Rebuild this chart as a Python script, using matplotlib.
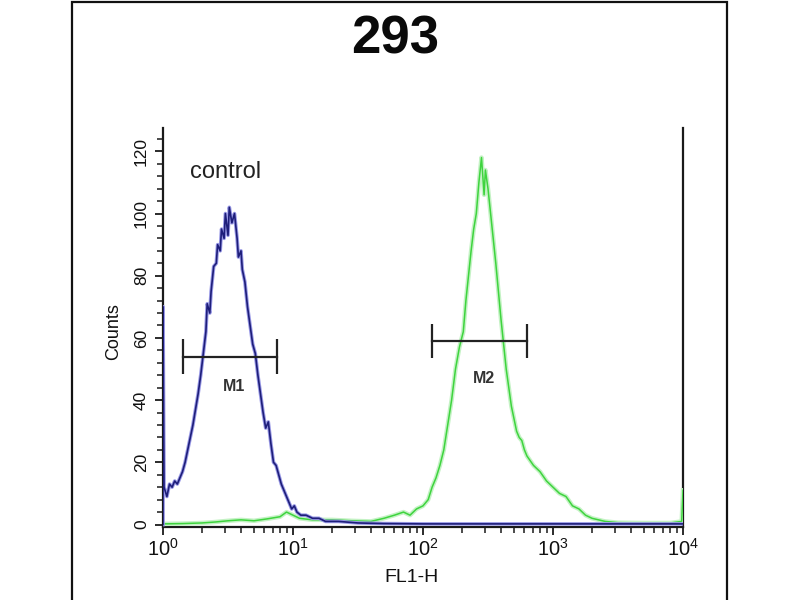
import numpy as np
import matplotlib
matplotlib.use("Agg")
import matplotlib.pyplot as plt
from matplotlib.ticker import MultipleLocator, LogLocator, FixedLocator, NullFormatter
from matplotlib.patches import Rectangle

plt.rcParams['font.family'] = ['Liberation Sans', 'DejaVu Sans']
plt.rcParams['mathtext.fontset'] = 'custom'
plt.rcParams['mathtext.rm'] = 'Liberation Sans'
plt.rcParams['mathtext.it'] = 'Liberation Sans'

# ---- data (x given in decades: FL1-H = 10**decade) ----
control_decade = [0.00, 0.00, 0.008, 0.03, 0.05, 0.07, 0.09, 0.11, 0.13, 0.15, 0.17, 0.19, 0.21,
                  0.23, 0.25, 0.27, 0.29, 0.31, 0.33, 0.34, 0.36, 0.37, 0.39, 0.41, 0.42,
                  0.44, 0.45, 0.47, 0.48, 0.50, 0.51, 0.53, 0.55, 0.57, 0.58, 0.60, 0.61,
                  0.63, 0.65, 0.67, 0.69, 0.71, 0.73, 0.75, 0.77, 0.79, 0.81, 0.83, 0.85,
                  0.87, 0.89, 0.91, 0.93, 0.95, 0.97, 0.99, 1.01, 1.03, 1.06, 1.10, 1.15,
                  1.20, 1.25, 1.35, 1.50, 1.70, 2.00, 2.50, 3.00, 3.50, 4.00]
control_counts = [0, 70, 12, 9, 13, 12, 14, 13, 15, 17, 20, 24, 28,
                  32, 37, 42, 48, 55, 62, 71, 68, 75, 83, 84, 90,
                  88, 95, 92, 100, 93, 102, 97, 100, 92, 86, 88, 82,
                  78, 70, 64, 58, 55, 48, 42, 36, 31, 33, 26, 20,
                  19, 16, 13, 11, 9, 7, 5, 6, 4, 3, 3, 2,
                  2, 1, 1, 0.5, 0.3, 0.2, 0.2, 0.2, 0.2, 0.2]

sample_decade = [0.00, 0.15, 0.30, 0.40, 0.50, 0.60, 0.70, 0.80, 0.90, 0.95, 1.00, 1.05, 1.15, 1.30,
                 1.45, 1.60, 1.70, 1.78, 1.85, 1.90, 1.95, 2.00, 2.04, 2.07, 2.10, 2.13,
                 2.16, 2.19, 2.22, 2.25, 2.28, 2.31, 2.33, 2.35, 2.37, 2.39, 2.41, 2.43,
                 2.45, 2.46, 2.47, 2.48, 2.50, 2.52, 2.54, 2.56, 2.58, 2.60, 2.62, 2.64,
                 2.66, 2.68, 2.70, 2.72, 2.74, 2.76, 2.78, 2.80, 2.85, 2.90, 2.95, 3.00,
                 3.05, 3.10, 3.15, 3.20, 3.25, 3.30, 3.40, 3.50, 3.70, 3.90, 3.99, 4.00]
sample_counts = [0.2, 0.3, 0.5, 0.8, 1.2, 1.5, 1.2, 1.8, 2.5, 4, 3, 2, 1.5, 1.5,
                 1.2, 1, 2, 3, 4, 3, 5, 6, 8, 12, 15, 19,
                 24, 32, 40, 50, 57, 62, 72, 80, 88, 95, 100, 110,
                 118, 112, 106, 114, 108, 100, 92, 84, 75, 66, 58, 50,
                 44, 38, 34, 30, 28, 27, 24, 22, 19, 17, 14, 12,
                 10, 9, 6, 5, 3, 2, 1, 0.6, 0.5, 0.5, 1, 11]

m1_range = [1.42, 7.5]
m1_level = 54
m2_range = [117, 630]
m2_level = 59

title = "293"
xticks = [1, 10, 100, 1000, 10000]
xticklabels = ["$10^{0}$", "$10^{1}$", "$10^{2}$", "$10^{3}$", "$10^{4}$"]
yticks = [0, 20, 40, 60, 80, 100, 120]

# ---- figure ----
fig = plt.figure(figsize=(8, 6), dpi=100)
fig.patches.append(Rectangle((72 / 800, -0.02), 655 / 800, 1.0 - 2 / 600 + 0.02,
                             transform=fig.transFigure, fill=False,
                             edgecolor='#111111', linewidth=1.6))

ax = fig.add_axes([163 / 800, 1 - 527 / 600, 520 / 800, 399 / 600])
ax.set_xscale('log')
ax.set_xlim(1, 10000)
ax.set_ylim(-0.8, 127.5)

cx = np.power(10.0, control_decade)
sx = np.power(10.0, sample_decade)

ax.plot(sx, sample_counts, color='#c4f2c4', lw=3.2, solid_joinstyle='round', zorder=3)
ax.plot(sx, sample_counts, color='#3ed43e', lw=1.1, zorder=3.1)
ax.plot(cx, control_counts, color='#9a9ae6', lw=2.6, solid_joinstyle='round', zorder=4)
ax.plot(cx, control_counts, color='#1e1e7a', lw=1.2, zorder=5)

for rng, lvl, lab, lx, ly in [(m1_range, m1_level, "M1", 3.52, 44.5),
                               (m2_range, m2_level, "M2", 295, 47)]:
    ax.plot(rng, [lvl, lvl], color='#222222', lw=1.6, zorder=6)
    ax.vlines(rng, lvl - 5.5, lvl + 5.5, color='#222222', lw=1.6, zorder=6)
    ax.text(lx, ly, lab, ha='center', va='center', fontsize=11.5, color='#333333',
            fontweight='bold', zorder=6)

ax.text(1.61, 113.5, "control", ha='left', va='center', fontsize=17, color='#222222')

ax.spines['top'].set_visible(False)
for s in ['left', 'right', 'bottom']:
    ax.spines[s].set_linewidth(1.6)
    ax.spines[s].set_color('#1a1a1a')

ax.xaxis.set_major_locator(FixedLocator(xticks))
ax.set_xticklabels(xticklabels)
ax.xaxis.set_minor_locator(LogLocator(base=10, subs=np.arange(2, 10)))
ax.xaxis.set_minor_formatter(NullFormatter())
ax.set_yticks(yticks)
ax.yaxis.set_minor_locator(MultipleLocator(4))
for lbl in ax.get_yticklabels():
    lbl.set_rotation(90)
    lbl.set_va('center')

ax.tick_params(axis='both', which='major', direction='out', length=6, width=1.3,
               color='#1a1a1a', labelcolor='#111111')
ax.tick_params(axis='both', which='minor', direction='out', length=4, width=1.1,
               color='#1a1a1a')
ax.tick_params(axis='x', which='major', labelsize=14.5, pad=2)
ax.tick_params(axis='y', which='major', labelsize=12.5, pad=4)
ax.tick_params(right=False, which='both')

ax.set_xlabel("FL1-H", fontsize=14, color='#111111')
ax.xaxis.set_label_coords(0.477, -0.105)
ax.set_ylabel("Counts", fontsize=13, color='#111111')
ax.yaxis.set_label_coords(-0.079, 0.49)

fig.text(395 / 800, 1 - 54 / 600, title, ha='center', va='baseline', fontsize=38,
         fontweight='bold', color='#0a0a0a')

fig.savefig("out.png", dpi=100)
